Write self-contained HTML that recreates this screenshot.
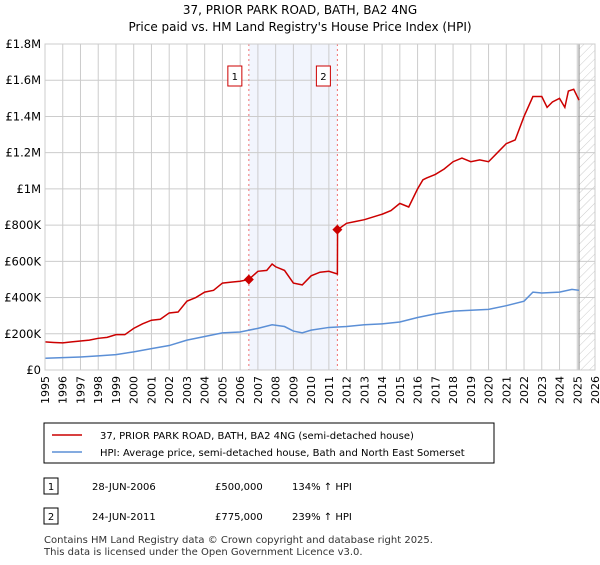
<!DOCTYPE html>
<html><head><meta charset="utf-8"><style>
body{margin:0;width:600px;height:560px;background:#fff;font-family:"Liberation Sans","DejaVu Sans",sans-serif;overflow:hidden}
svg text{font-family:"DejaVu Sans","Liberation Sans",sans-serif}
</style></head><body>
<svg id="c" width="600" height="560">
<defs><pattern id="h" width="6" height="6" patternUnits="userSpaceOnUse" patternTransform="rotate(45)"><line x1="0" y1="0" x2="0" y2="6" stroke="#ccc" stroke-width="1"/></pattern></defs>
<text x="300" y="14" text-anchor="middle" font-size="12">37, PRIOR PARK ROAD, BATH, BA2 4NG</text>
<text x="300" y="31" text-anchor="middle" font-size="12">Price paid vs. HM Land Registry's House Price Index (HPI)</text>
<g id="plot"></g>
<rect x="44" y="423" width="450" height="40" fill="#fff" stroke="#000"/>
<line x1="52" y1="435" x2="82" y2="435" stroke="#cc0000" stroke-width="1.5"/>
<text x="100" y="439" font-size="10">37, PRIOR PARK ROAD, BATH, BA2 4NG (semi-detached house)</text>
<line x1="52" y1="452" x2="82" y2="452" stroke="#5b8fd6" stroke-width="1.5"/>
<text x="100" y="456" font-size="10">HPI: Average price, semi-detached house, Bath and North East Somerset</text>
<g font-size="10">
<rect x="44" y="478" width="14" height="16" fill="#fff" stroke="#000"/><text x="51" y="490" text-anchor="middle">1</text>
<text x="92" y="490">28-JUN-2006</text><text x="215" y="490">£500,000</text><text x="292" y="490">134% ↑ HPI</text>
<rect x="44" y="508" width="14" height="16" fill="#fff" stroke="#000"/><text x="51" y="520" text-anchor="middle">2</text>
<text x="92" y="520">24-JUN-2011</text><text x="215" y="520">£775,000</text><text x="292" y="520">239% ↑ HPI</text>
</g>
<text x="44" y="543" font-size="10" fill="#333">Contains HM Land Registry data © Crown copyright and database right 2025.</text>
<text x="44" y="555" font-size="10" fill="#333">This data is licensed under the Open Government Licence v3.0.</text>
</svg>
<script>
const redX=[1995,1995.5,1996,1996.5,1997,1997.5,1998,1998.5,1999,1999.5,2000,2000.5,2001,2001.5,2002,2002.5,2003,2003.5,2004,2004.5,2005,2005.5,2006,2006.49,2007,2007.5,2007.8,2008,2008.5,2009,2009.5,2010,2010.5,2011,2011.48,2011.49,2012,2012.5,2013,2013.5,2014,2014.5,2015,2015.5,2016,2016.3,2016.5,2017,2017.5,2018,2018.5,2019,2019.5,2020,2020.5,2021,2021.5,2022,2022.5,2023,2023.3,2023.6,2024,2024.3,2024.5,2024.8,2025.1];
const redY=[155,152,150,155,160,165,175,180,195,195,230,255,275,280,315,320,380,400,430,440,480,485,490,500,545,550,585,570,550,480,470,520,540,545,530,775,810,820,830,845,860,880,920,900,1000,1050,1060,1080,1110,1150,1170,1150,1160,1150,1200,1250,1270,1400,1510,1510,1450,1480,1500,1450,1540,1550,1490];
const blueX=[1995,1996,1997,1998,1999,2000,2001,2002,2003,2004,2005,2006,2007,2007.8,2008.5,2009,2009.5,2010,2011,2012,2013,2014,2015,2016,2017,2018,2019,2020,2021,2022,2022.5,2023,2024,2024.7,2025.1];
const blueY=[65,68,72,78,85,100,118,135,165,185,205,210,230,250,240,215,205,220,235,240,250,255,265,290,310,325,330,335,355,380,430,425,430,445,440];
const yTicks=[0,200,400,600,800,1000,1200,1400,1600,1800];
const yLabels=["£0","£200K","£400K","£600K","£800K","£1M","£1.2M","£1.4M","£1.6M","£1.8M"];
const years=[];for(let y=1995;y<=2026;y++)years.push(y);
const sales=[{x:2006.49,v:500,l:"1"},{x:2011.48,v:775,l:"2"}];
const X0=45,X1=595,Y0=370,Y1=44;
const sx=v=>X0+(v-1995)/(2026-1995)*(X1-X0);
const sy=v=>Y0-v/1800*(Y0-Y1);
const NS="http://www.w3.org/2000/svg";
const g=document.getElementById('plot');
function mk(t,a,p){const e=document.createElementNS(NS,t);for(const k in a)e.setAttribute(k,a[k]);(p||g).appendChild(e);return e;}
let e=mk('rect',{x:sx(2006.49),y:Y1,width:sx(2011.48)-sx(2006.49),height:Y0-Y1,fill:'#f2f5fd'});


e=mk('rect',{x:sx(2025.1),y:Y1,width:X1-sx(2025.1),height:Y0-Y1,fill:'url(#h)'});


years.forEach(y=>{
 e=mk('line',{x1:sx(y),x2:sx(y),y1:Y1,y2:Y0,stroke:'#ccc'});
 
 
 e=mk('text',{transform:`translate(${sx(y)+4},${Y0+6}) rotate(-90)`,'text-anchor':'end','font-size':'11'});e.textContent=y;
 
 
});
yTicks.forEach((v,i)=>{
 e=mk('line',{x1:X0,x2:X1,y1:sy(v),y2:sy(v),stroke:'#ccc'});
 
 
 e=mk('text',{x:X0-4,y:sy(v)+4,'text-anchor':'end','font-size':'11.5'});e.textContent=yLabels[i];
 
 
});
e=mk('line',{x1:sx(2025.1),x2:sx(2025.1),y1:Y1,y2:Y0,stroke:'#888'});


sales.forEach(s=>{
 e=mk('line',{x1:sx(s.x),x2:sx(s.x),y1:Y1,y2:Y0,stroke:'#f07070','stroke-dasharray':'2,3'});
 
 
 e=mk('rect',{x:sx(s.x)-21,y:66,width:14,height:20,fill:'#fff',stroke:'#cc0000'});
 
 
 e=mk('text',{x:sx(s.x)-14,y:80,'text-anchor':'middle','font-size':'10'});e.textContent=s.l;
 
 
});
e=mk('polyline',{points:blueX.map((x,i)=>sx(x)+','+sy(blueY[i])).join(' '),fill:'none',stroke:'#5b8fd6','stroke-width':1.5});


e=mk('polyline',{points:redX.map((x,i)=>sx(x)+','+sy(redY[i])).join(' '),fill:'none',stroke:'#cc0000','stroke-width':1.5});


sales.forEach(s=>{
 const cx=sx(s.x),cy=sy(s.v);
 e=mk('polygon',{points:`${cx},${cy-5} ${cx+5},${cy} ${cx},${cy+5} ${cx-5},${cy}`,fill:'#cc0000'});
 
 
});
e=mk('rect',{x:X0,y:Y1,width:X1-X0,height:Y0-Y1,fill:'none',stroke:'#ccc'});


</script>
</body></html>
